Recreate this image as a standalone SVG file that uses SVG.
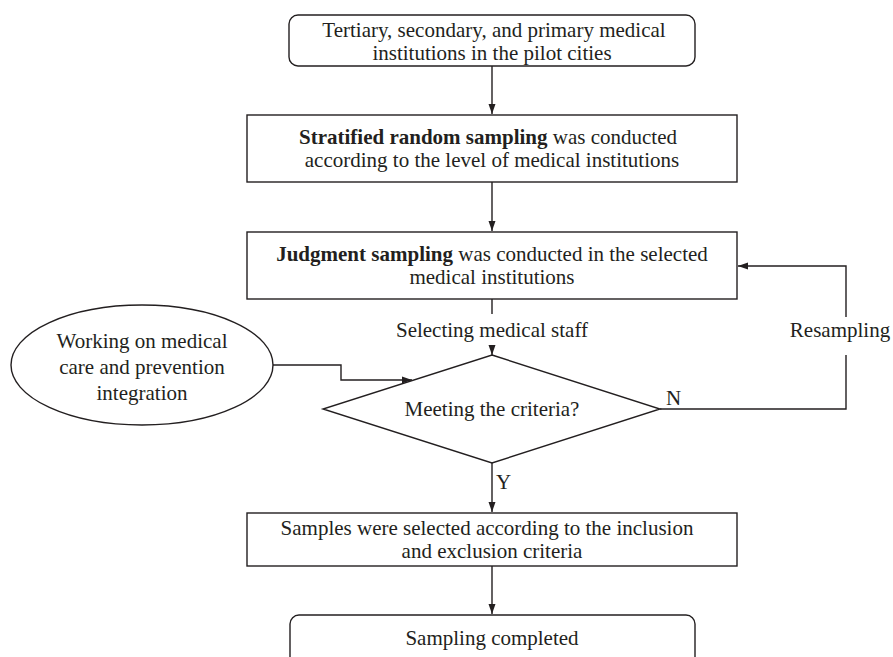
<svg xmlns="http://www.w3.org/2000/svg" width="893" height="657" viewBox="0 0 893 657">
<defs>
<marker id="arr" markerUnits="userSpaceOnUse" markerWidth="10" markerHeight="10" viewBox="0 0 10 10" refX="10" refY="5" orient="auto">
<path d="M0,1.5 L10,5 L0,8.5 Z" fill="#231f20"/>
</marker>
<style>
.s{fill:#fff;stroke:#231f20;stroke-width:1.4}
.c{fill:none;stroke:#231f20;stroke-width:1.4}
text{font-family:"Liberation Serif","Times New Roman",serif;font-size:21px;fill:#231f20}
.m{text-anchor:middle}
.b{font-weight:bold}
</style>
</defs>
<rect width="893" height="657" fill="#fff"/>
<g id="connectors">
<path class="c" d="M492,66 V114" marker-end="url(#arr)"/>
<path class="c" d="M492,182 V231" marker-end="url(#arr)"/>
<path class="c" d="M492,299 V314"/>
<path class="c" d="M492,346 V355" marker-end="url(#arr)"/>
<path class="c" d="M273,365 H341 V380 H412" marker-end="url(#arr)"/>
<path class="c" d="M660,409 H846 V355"/>
<path class="c" d="M846,317 V266 H738" marker-end="url(#arr)"/>
<path class="c" d="M492,463 V512" marker-end="url(#arr)"/>
<path class="c" d="M492,566 V614" marker-end="url(#arr)"/>
</g>
<g id="start">
<rect class="s" x="289" y="15" width="406" height="51" rx="9"/>
<text class="m" x="494" y="37">Tertiary, secondary, and primary medical</text>
<text class="m" x="492" y="60">institutions in the pilot cities</text>
</g>
<g id="stratified">
<rect class="s" x="247" y="115" width="490" height="67"/>
<text class="m" x="488" y="144"><tspan class="b">Stratified random sampling</tspan> was conducted</text>
<text class="m" x="492" y="167">according to the level of medical institutions</text>
</g>
<g id="judgment">
<rect class="s" x="247" y="232" width="490" height="67"/>
<text class="m" x="492" y="261"><tspan class="b">Judgment sampling</tspan> was conducted in the selected</text>
<text class="m" x="492" y="284">medical institutions</text>
</g>
<g id="selecting-label">
<text class="m" x="492" y="337">Selecting medical staff</text>
</g>
<g id="working">
<ellipse class="s" cx="142" cy="365" rx="131" ry="60"/>
<text class="m" x="142" y="348">Working on medical</text>
<text class="m" x="142" y="374">care and prevention</text>
<text class="m" x="142" y="400">integration</text>
</g>
<g id="criteria">
<path class="s" d="M492,355 L660,409 L492,463 L323,409 Z"/>
<text class="m" x="492" y="416">Meeting the criteria?</text>
</g>
<g id="labels">
<text x="666" y="405">N</text>
<text class="m" x="840" y="337">Resampling</text>
<text x="496" y="489">Y</text>
</g>
<g id="samples">
<rect class="s" x="247" y="513" width="490" height="53"/>
<text class="m" x="487" y="535">Samples were selected according to the inclusion</text>
<text class="m" x="492" y="558">and exclusion criteria</text>
</g>
<g id="end">
<rect class="s" x="290" y="615" width="405" height="60" rx="9"/>
<text class="m" x="492" y="645">Sampling completed</text>
</g>
</svg>
